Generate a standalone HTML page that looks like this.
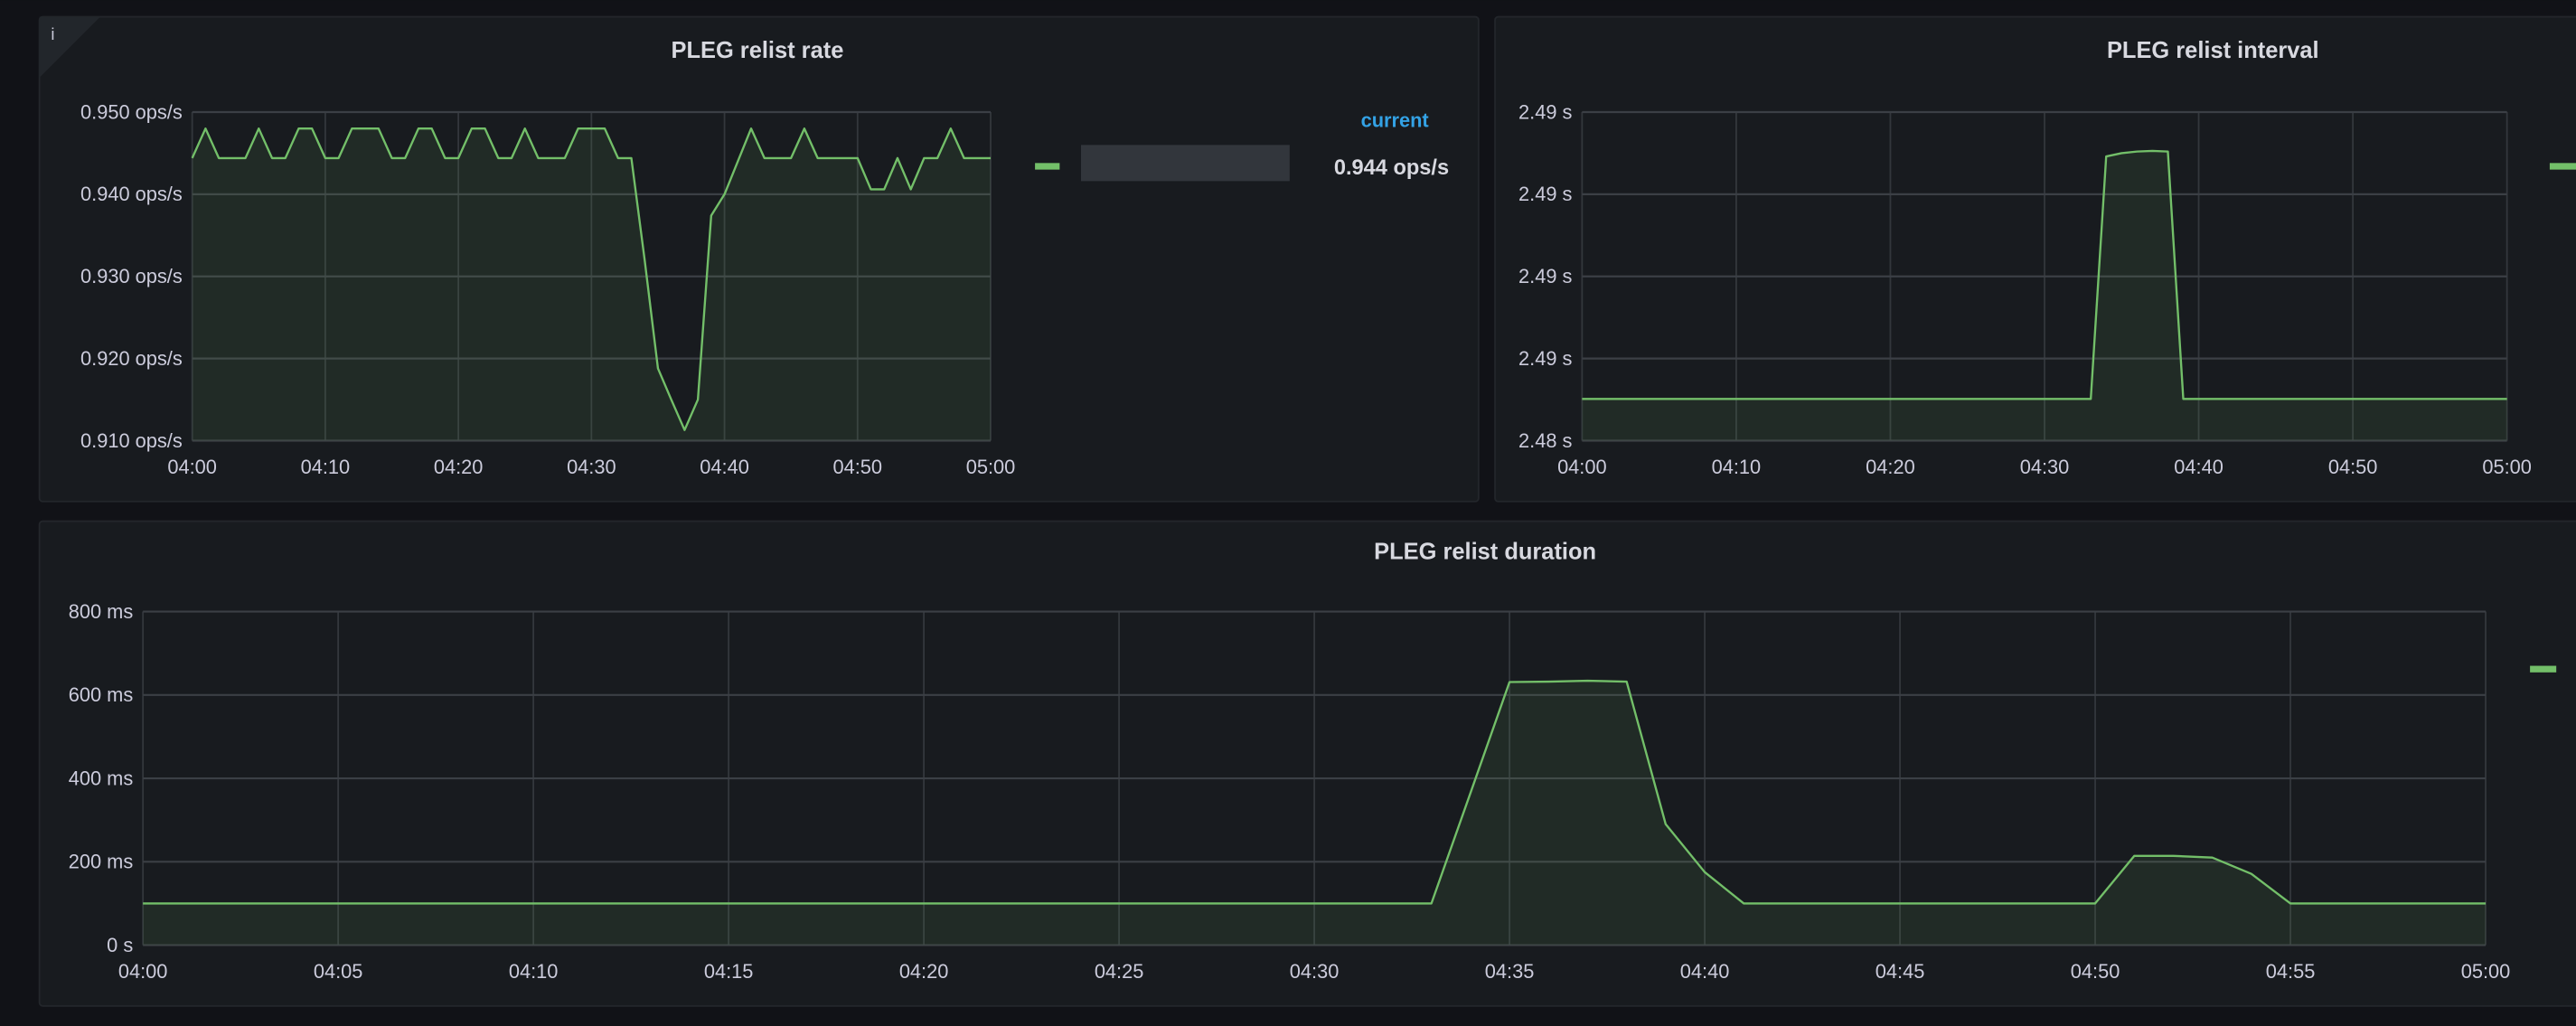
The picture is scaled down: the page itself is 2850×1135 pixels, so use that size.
<!DOCTYPE html>
<html><head><meta charset="utf-8"><style>
html,body{margin:0;padding:0;background:#111217;overflow:hidden}
svg{display:block}
text{font-family:"Liberation Sans",sans-serif}
</style></head><body>
<svg id="s" width="2850" height="1135" viewBox="0 0 1568 624" xmlns="http://www.w3.org/2000/svg">
<rect x="0" y="0" width="1568" height="624" fill="#111217"/>
<g>
<rect x="24" y="10" width="876" height="295" rx="2" fill="#181b1f" stroke="#23262b"/>
<path d="M24 10 L61 10 L24 47 Z" fill="#22262b"/>
<text x="31" y="24" font-size="10" fill="#ccccdc">i</text>
<text x="461" y="35" font-size="14" font-weight="bold" fill="#d8d9e0" text-anchor="middle">PLEG relist rate</text>
<text x="849" y="77" font-size="12" font-weight="bold" fill="#33a2e5" text-anchor="middle">current</text>
<rect x="630" y="99" width="15" height="4" fill="#73bf69"/>
<rect x="658" y="88" width="127" height="22" fill="#3a3d44" opacity="0.8"/>
<text x="882" y="106" font-size="13" font-weight="bold" fill="#d8d9e0" text-anchor="end">0.944 ops/s</text>
<g id="c1"></g>
</g>
<g>
<rect x="910" y="10" width="670" height="295" rx="2" fill="#181b1f" stroke="#23262b"/>
<text x="1347" y="35" font-size="14" font-weight="bold" fill="#d8d9e0" text-anchor="middle">PLEG relist interval</text>
<rect x="1552" y="99" width="16" height="4" fill="#73bf69"/>
<g id="c2"></g>
</g>
<g>
<rect x="24" y="317" width="1556" height="295" rx="2" fill="#181b1f" stroke="#23262b"/>
<text x="904" y="340" font-size="14" font-weight="bold" fill="#d8d9e0" text-anchor="middle">PLEG relist duration</text>
<rect x="1540" y="405" width="16" height="4" fill="#73bf69"/>
<g id="c3"></g>
</g>
</svg>
<script>
// ---- PLEG relist rate (per-minute samples, 04:00..05:00)
const rateValues=[.9444,.948,.9444,.9444,.9444,.948,.9444,.9444,.948,.948,.9444,.9444,.948,.948,.948,.9444,.9444,.948,.948,.9444,.9444,.948,.948,.9444,.9444,.948,.9444,.9444,.9444,.948,.948,.948,.9444,.9444,.932,.9188,.915,.9113,.915,.9374,.940,.944,.948,.9444,.9444,.9444,.948,.9444,.9444,.9444,.9444,.9406,.9406,.9444,.9406,.9444,.9444,.948,.9444,.9444,.9444];
const rateTicks=[0.950,0.940,0.930,0.920,0.910];
const rateTickLabels=["0.950 ops/s","0.940 ops/s","0.930 ops/s","0.920 ops/s","0.910 ops/s"];
const rateXLabels=["04:00","04:10","04:20","04:30","04:40","04:50","05:00"];
// ---- PLEG relist interval
const intervalValues=[];
const intervalBase=2.48127;
for(let i=0;i<=33;i++) intervalValues.push(intervalBase);
intervalValues.push(2.48865,2.48875,2.4888,2.48882,2.4888,2.48127);
for(let i=40;i<=60;i++) intervalValues.push(intervalBase);
const intervalTicks=[2.490,2.4875,2.485,2.4825,2.480];
const intervalTickLabels=["2.49 s","2.49 s","2.49 s","2.49 s","2.48 s"];
const intervalXLabels=["04:00","04:10","04:20","04:30","04:40","04:50","05:00"];
// ---- PLEG relist duration (ms)
const durationValues=[];
for(let i=0;i<=33;i++) durationValues.push(100);
durationValues.push(365,631,632,634,632,290,175,100);
for(let i=42;i<=50;i++) durationValues.push(100);
durationValues.push(214,214,210,171,100,100,100,100,100,100);
const durationTicks=[800,600,400,200,0];
const durationTickLabels=["800 ms","600 ms","400 ms","200 ms","0 s"];
const durationXLabels=["04:00","04:05","04:10","04:15","04:20","04:25","04:30","04:35","04:40","04:45","04:50","04:55","05:00"];

const NS="http://www.w3.org/2000/svg";
function mk(tag,attrs,parent,txt){const e=document.createElementNS(NS,tag);for(const k in attrs)e.setAttribute(k,attrs[k]);if(txt!==undefined)e.textContent=txt;parent.appendChild(e);return e;}

function chart(gid,prefix,box,yMin,yMax,ticks,tickLabels,xLabels,vals){
  const g=document.getElementById(gid);
  const xs=m=>box.x0+(box.x1-box.x0)*m/60;
  const ys=v=>box.y1-(box.y1-box.y0)*(v-yMin)/(yMax-yMin);
  const n=xLabels.length-1;
  xLabels.forEach((lab,i)=>{
    const x=xs(60*i/n);
    const l=mk('line',{x1:x,x2:x,y1:box.y0,y2:box.y1,stroke:'#33373c','stroke-width':1},g);
    
    
    const tx=mk('text',{x:x,y:box.y1+20,'font-size':12,fill:'#ccccdc','text-anchor':'middle'},g,lab);
    
    
  });
  ticks.forEach((t,i)=>{
    const l=mk('line',{x1:box.x0,x2:box.x1,y1:ys(t),y2:ys(t),stroke:'#3b3f45','stroke-width':1.2},g);
    
    
    const tx=mk('text',{x:box.x0-6,y:ys(t)+4,'font-size':12,fill:'#ccccdc','text-anchor':'end'},g,tickLabels[i]);
    
    
  });
  let d='';vals.forEach((v,i)=>{d+=(i?'L':'M')+xs(i).toFixed(2)+' '+ys(v).toFixed(2);});
  const area=mk('path',{d:d+'L'+xs(vals.length-1)+' '+box.y1+'L'+xs(0)+' '+box.y1+'Z',fill:'rgba(115,191,105,0.1)'},g);
  
  
  const line=mk('path',{d:d,fill:'none',stroke:'#73bf69','stroke-width':1.3,'stroke-linejoin':'round'},g);
  
  
}
chart('c1','rate',{x0:117,x1:603,y0:68,y1:268},0.910,0.950,rateTicks,rateTickLabels,rateXLabels,rateValues);
chart('c2','interval',{x0:963,x1:1526,y0:68,y1:268},2.480,2.490,intervalTicks,intervalTickLabels,intervalXLabels,intervalValues);
chart('c3','duration',{x0:87,x1:1513,y0:372,y1:575},0,800,durationTicks,durationTickLabels,durationXLabels,durationValues);
</script>
</body></html>
